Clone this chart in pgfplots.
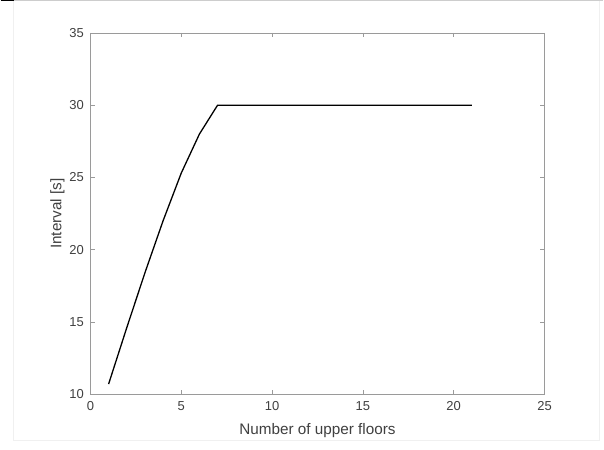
\documentclass[border=0pt]{standalone}
\usepackage{pgfplots}
\pgfplotsset{compat=1.18}
\usepackage{fontspec}
\setmainfont{Liberation Sans}
\definecolor{axgray}{HTML}{9A9A9A}
\definecolor{txtgray}{HTML}{404040}
\begin{document}
\begin{tikzpicture}
\fill[white] (-90pt,-55pt) rectangle (514pt,395pt);
\draw[line width=1.2pt,color={rgb,255:red,205;green,205;blue,205}] (-77pt,394.4pt) -- (514pt,394.4pt);
\draw[line width=1.2pt,black] (-90pt,394.4pt) -- (-77pt,394.4pt);
\draw[line width=0.4pt,color={rgb,255:red,240;green,240;blue,240}] (-77pt,394pt) -- (-77pt,-46pt) -- (510pt,-46pt) -- (510pt,394pt);
\begin{axis}[
  scale only axis, width=455pt, height=362pt,
  xmin=0, xmax=25, ymin=10, ymax=35,
  xtick={0,5,...,25}, ytick={10,15,...,35},
  axis line style={axgray, line width=0.6pt},
  tick style={axgray, line width=0.6pt},
  tick align=inside, major tick length=4.5pt,
  tick label style={font=\fontsize{13}{15}\selectfont, text=txtgray},
  xticklabel style={yshift=-4pt},
  yticklabel style={xshift=-3pt},
  /pgf/number format/assume math mode=true,
  label style={font=\fontsize{15.3}{18}\selectfont, text=txtgray},
  xlabel={Number of upper floors},
  ylabel={Interval [s]},
  xlabel style={yshift=-6pt},
  ylabel style={yshift=-2pt},
]
\addplot[black, line width=1.3pt, mark=none] coordinates {
(1,10.7) (2,14.6) (3,18.4) (4,22.0) (5,25.3) (6,28.0) (7,30)
(8,30) (9,30) (10,30) (11,30) (12,30) (13,30) (14,30) (15,30)
(16,30) (17,30) (18,30) (19,30) (20,30) (21,30)
};
\end{axis}
\useasboundingbox (-90pt,-55pt) rectangle (514pt,395pt);
\end{tikzpicture}
\end{document}
